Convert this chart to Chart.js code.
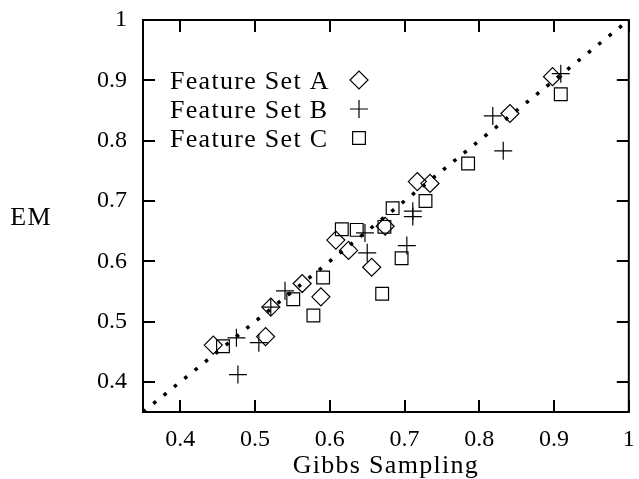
<!DOCTYPE html>
<html>
<head>
<meta charset="utf-8">
<script src="https://cdn.jsdelivr.net/npm/chart.js@4/dist/chart.umd.min.js"></script>
<style>
  body { margin: 0; background: #fff; }
  canvas { display: block; }
</style>
</head>
<body>
<canvas id="scatterChart" width="639" height="479"></canvas>
<script>
// values: Gibbs Sampling (x) vs EM (y)
const gibbsA = [0.444, 0.514, 0.521, 0.563, 0.588, 0.608, 0.625, 0.656, 0.674, 0.717, 0.734, 0.841, 0.898];
const emA    = [0.461, 0.475, 0.524, 0.563, 0.541, 0.635, 0.618, 0.590, 0.658, 0.732, 0.729, 0.845, 0.906];

const gibbsB = [0.475, 0.477, 0.505, 0.521, 0.540, 0.647, 0.650, 0.703, 0.711, 0.711, 0.818, 0.832, 0.909];
const emB    = [0.473, 0.412, 0.465, 0.524, 0.551, 0.647, 0.614, 0.626, 0.683, 0.674, 0.841, 0.783, 0.911];

const gibbsC = [0.457, 0.551, 0.578, 0.591, 0.616, 0.636, 0.670, 0.673, 0.684, 0.696, 0.728, 0.785, 0.909];
const emC    = [0.459, 0.537, 0.510, 0.573, 0.653, 0.652, 0.546, 0.657, 0.688, 0.605, 0.700, 0.762, 0.877];

const diagX = [0.35, 1];
const diagY = [0.35, 1];

const seriesNames = ["Feature Set A", "Feature Set B", "Feature Set C"];
const xTickVals = [0.4, 0.5, 0.6, 0.7, 0.8, 0.9, 1];
const yTickVals = [0.4, 0.5, 0.6, 0.7, 0.8, 0.9, 1];
const xTitle = "Gibbs Sampling";
const yTitle = "EM";

const textFont = "26px 'Liberation Serif'";

function pairs(xs, ys) {
    return xs.map((x, i) => ({ x: x, y: ys[i] }));
}

function tickLabel(v) {
    return v === 1 ? "1" : v.toFixed(1);
}

function marker(ctx, style, x, y, r) {
    ctx.beginPath();
    if (style === "rectRot") {
        ctx.moveTo(x - r, y);
        ctx.lineTo(x, y - r);
        ctx.lineTo(x + r, y);
        ctx.lineTo(x, y + r);
        ctx.closePath();
    } else if (style === "cross") {
        ctx.moveTo(x - r, y);
        ctx.lineTo(x + r, y);
        ctx.moveTo(x, y - r);
        ctx.lineTo(x, y + r);
    } else {
        const h = r * Math.SQRT1_2;
        ctx.rect(x - h, y - h, 2 * h, 2 * h);
    }
    ctx.stroke();
}

// white background, frame, inward ticks, titles and legend
const framePlugin = {
    id: "frame",
    beforeDraw(chart) {
        const ctx = chart.ctx;
        ctx.save();
        ctx.fillStyle = "#fff";
        ctx.fillRect(0, 0, chart.width, chart.height);
        ctx.restore();
    },
    afterDraw(chart) {
        const ctx = chart.ctx;
        const a = chart.chartArea;
        const sx = chart.scales.x;
        const sy = chart.scales.y;
        ctx.save();
        ctx.strokeStyle = "#000";
        ctx.lineWidth = 2;
        ctx.strokeRect(a.left, a.top, a.right - a.left, a.bottom - a.top);

        const tl = 12;
        ctx.beginPath();
        xTickVals.forEach(v => {
            const px = Math.round(sx.getPixelForValue(v));
            ctx.moveTo(px, a.bottom);
            ctx.lineTo(px, a.bottom - tl);
            ctx.moveTo(px, a.top);
            ctx.lineTo(px, a.top + tl);
        });
        yTickVals.forEach(v => {
            const py = Math.round(sy.getPixelForValue(v));
            ctx.moveTo(a.left, py);
            ctx.lineTo(a.left + tl, py);
            ctx.moveTo(a.right, py);
            ctx.lineTo(a.right - tl, py);
        });
        ctx.stroke();

        ctx.fillStyle = "#000";
        ctx.font = textFont;
        ctx.letterSpacing = "1.3px";
        ctx.textBaseline = "alphabetic";
        ctx.textAlign = "center";
        ctx.fillText(xTitle, (a.left + a.right) / 2, 473);
        ctx.fillText(yTitle, 31, 225);

        // legend: text then marker, as in the original
        const styles = chart.data.datasets.slice(0, 3).map(d => d.pointStyle);
        ctx.textAlign = "left";
        seriesNames.forEach((name, i) => {
            const rowY = 80 + i * 29;
            ctx.fillText(name, 170, rowY + 9);
            ctx.lineWidth = 1.2;
            marker(ctx, styles[i], 359, rowY, 9);
        });
        ctx.restore();
    }
};

const pointCommon = {
    showLine: false,
    pointRadius: 9,
    pointHoverRadius: 9,
    pointBorderWidth: 1.2,
    pointBorderColor: "#000",
    pointBackgroundColor: "rgba(0,0,0,0)",
    borderColor: "#000",
    backgroundColor: "rgba(0,0,0,0)"
};

new Chart(document.getElementById("scatterChart"), {
    type: "scatter",
    data: {
        datasets: [
            Object.assign({ label: seriesNames[0], data: pairs(gibbsA, emA), pointStyle: "rectRot" }, pointCommon),
            Object.assign({ label: seriesNames[1], data: pairs(gibbsB, emB), pointStyle: "cross" }, pointCommon),
            Object.assign({ label: seriesNames[2], data: pairs(gibbsC, emC), pointStyle: "rect" }, pointCommon),
            {
                label: "y = x",
                data: pairs(diagX, diagY),
                showLine: true,
                borderColor: "#000",
                borderWidth: 3.5,
                borderDash: [3.5, 9.8],
                borderCapStyle: "butt",
                pointRadius: 0,
                fill: false
            }
        ]
    },
    options: {
        responsive: false,
        animation: false,
        devicePixelRatio: 1,
        layout: { padding: { top: 20, right: 3, left: 0, bottom: 0 } },
        plugins: {
            legend: { display: false },
            tooltip: { enabled: false }
        },
        scales: {
            x: {
                type: "linear",
                min: 0.35,
                max: 1,
                afterBuildTicks: s => { s.ticks = xTickVals.map(v => ({ value: v })); },
                afterFit: s => { s.height = 67; s.paddingLeft = 0; s.paddingRight = 0; },
                grid: { display: false, drawTicks: false },
                border: { display: false },
                ticks: {
                    color: "#000",
                    padding: 13,
                    maxRotation: 0,
                    font: { family: "'Liberation Serif'", size: 24 },
                    callback: v => tickLabel(v)
                }
            },
            y: {
                type: "linear",
                min: 0.35,
                max: 1,
                afterBuildTicks: s => { s.ticks = yTickVals.map(v => ({ value: v })); },
                afterFit: s => { s.width = 143; s.paddingTop = 0; s.paddingBottom = 0; },
                grid: { display: false, drawTicks: false },
                border: { display: false },
                ticks: {
                    color: "#000",
                    padding: 16,
                    font: { family: "'Liberation Serif'", size: 24 },
                    callback: v => tickLabel(v)
                }
            }
        }
    },
    plugins: [framePlugin]
});
</script>
</body>
</html>
